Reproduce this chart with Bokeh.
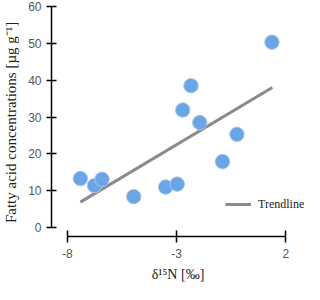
from bokeh.plotting import figure
from bokeh.models import Range1d, FixedTicker, Legend, LegendItem, ColumnDataSource
from bokeh.embed import file_html
from bokeh.resources import INLINE

# Data
d15N = [-7.40, -6.75, -6.41, -4.96, -3.50, -2.97, -2.72, -2.34, -1.94, -0.90, -0.24, 1.36]
fatty_acid = [13.3, 11.4, 13.1, 8.4, 11.0, 11.8, 31.9, 38.5, 28.5, 17.9, 25.3, 50.3]
trend_x = [-7.40, 1.38]
trend_y = [6.9, 38.0]
x_ticks = [-8, -3, 2]
x_tick_labels = ["-8", "-3", "2"]
y_ticks = [0, 10, 20, 30, 40, 50, 60]

p = figure(width=304, height=284, output_backend="svg", toolbar_location=None,
           x_range=Range1d(-8.72, 2.85), y_range=Range1d(-2.42, 60.54),
           min_border_left=46, min_border_right=0, min_border_top=4, min_border_bottom=46)
p.xgrid.visible = False
p.ygrid.visible = False
p.outline_line_color = None
p.background_fill_color = "white"
p.border_fill_color = "white"

tr = p.line(trend_x, trend_y, line_color="#8a8a8a", line_width=3)

src = ColumnDataSource(dict(x=d15N, y=fatty_acid))
p.scatter("x", "y", source=src, size=14.5, fill_color="#6aa5e6", line_color="#a8c8f0", line_width=1)

for ax in (p.xaxis[0], p.yaxis[0]):
    ax.axis_line_color = "black"
    ax.axis_line_width = 1.5
    ax.major_tick_line_color = "black"
    ax.major_tick_line_width = 1.5
    ax.minor_tick_line_color = None
    ax.major_label_text_font = "Liberation Sans"
    ax.major_label_text_font_size = "12px"
    ax.major_label_text_color = "#555555"
    ax.axis_label_text_font = "Liberation Serif"
    ax.axis_label_text_font_style = "normal"
    ax.axis_label_text_color = "#222222"

p.xaxis.bounds = (-8, 2)
p.xaxis.ticker = FixedTicker(ticks=x_ticks)
p.xaxis.major_label_overrides = dict(zip(x_ticks, x_tick_labels))
p.xaxis.major_tick_in = 6
p.xaxis.major_tick_out = 6
p.xaxis.major_label_standoff = 6
p.xaxis.axis_label = "δ¹⁵N [‰]"
p.xaxis.axis_label_text_font_size = "14px"
p.xaxis.axis_label_standoff = 6

p.yaxis.bounds = (0, 60)
p.yaxis.ticker = FixedTicker(ticks=y_ticks)
p.yaxis.major_tick_in = 5
p.yaxis.major_tick_out = 5
p.yaxis.major_label_standoff = 5
p.yaxis.axis_label = "Fatty acid concentrations  [µg g⁻¹]"
p.yaxis.axis_label_text_font_size = "15px"
p.yaxis.axis_label_standoff = 6

legend = Legend(items=[LegendItem(label="Trendline", renderers=[tr])], location=(174, 22),
                glyph_width=26, glyph_height=20, label_standoff=7, padding=0, margin=0,
                border_line_color=None, background_fill_alpha=0,
                label_text_font="Liberation Serif", label_text_font_size="12px",
                label_text_color="#222222")
p.add_layout(legend)

open("out.html", "w").write(file_html(p, INLINE))
